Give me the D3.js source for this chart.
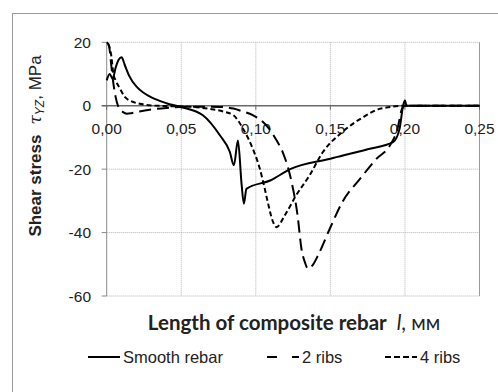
<!DOCTYPE html>
<html>
<head>
<meta charset="utf-8">
<script src="https://cdn.jsdelivr.net/npm/d3@7"></script>
<style>
  body { margin: 0; background: #fff; }
  text { font-family: "Liberation Sans", Arial, sans-serif; fill: #222; }
</style>
</head>
<body>
<div id="chart"></div>
<script>
// data
var xTicks = [0, 0.05, 0.10, 0.15, 0.20, 0.25];
var xTickLabels = ["0,00", "0,05", "0,10", "0,15", "0,20", "0,25"];
var yTicks = [-60, -40, -20, 0, 20];

var smoothX = [0, 0.002, 0.004, 0.006, 0.008, 0.010, 0.012, 0.015, 0.02, 0.025, 0.03, 0.04, 0.05, 0.0645, 0.076, 0.0826, 0.0853, 0.088, 0.0905, 0.092, 0.0937, 0.11, 0.123, 0.15, 0.175, 0.192, 0.1964, 0.1986, 0.2, 0.201, 0.25];
var smoothY = [8, 10, 8.5, 12, 14.5, 15.3, 13, 9.5, 6, 4, 2.6, 0.8, -0.4, -3, -9.4, -14.6, -18.8, -11, -25, -30.9, -26.2, -23.5, -20, -16.7, -13.7, -11.5, -7.3, -0.4, 1.7, 0, 0];

var ribs2X = [0, 0.0015, 0.003, 0.0045, 0.006, 0.008, 0.011, 0.0135, 0.017, 0.022, 0.03, 0.04, 0.06, 0.076, 0.085, 0.0893, 0.098, 0.104, 0.109, 0.114, 0.118, 0.124, 0.128, 0.1306, 0.133, 0.135, 0.1385, 0.1417, 0.1496, 0.158, 0.170, 0.181, 0.19, 0.195, 0.198, 0.2, 0.25];
var ribs2Y = [20, 19, 13, 7, 2.7, -0.5, -2, -2.5, -2.3, -1.8, -1.2, -0.7, -0.3, -0.4, -0.9, -1.5, -3, -4.8, -7.3, -11, -14.6, -24.1, -34.6, -45.1, -49.5, -51.4, -50, -47.2, -38.8, -30.4, -23, -16.7, -12.5, -7.3, -1, 0, 0];

var ribs4X = [0.001, 0.003, 0.0045, 0.006, 0.0089, 0.0123, 0.016, 0.0223, 0.03, 0.04, 0.055, 0.069, 0.078, 0.085, 0.0915, 0.098, 0.1027, 0.106, 0.108, 0.1116, 0.1138, 0.1194, 0.127, 0.136, 0.145, 0.158, 0.172, 0.183, 0.19, 0.2, 0.25];
var ribs4Y = [19.5, 16, 10, 8, 5.4, 2.7, 1.5, 0.6, 0.1, -0.1, -0.3, -1, -1.8, -3, -7.3, -13.6, -19.9, -26.2, -30.4, -36.7, -38.3, -34.6, -28.3, -22, -14.6, -8.3, -3.6, -1, -0.4, 0, 0];

var svgWidth = 498;
var svgHeight = 392;

var svg = d3.select("#chart")
    .append("svg")
    .attr("width", svgWidth)
    .attr("height", svgHeight);

// outer frame (cut off at right/bottom)
svg.append("rect")
    .attr("x", 12.5).attr("y", 13.5)
    .attr("width", 500).attr("height", 400)
    .attr("fill", "none")
    .attr("stroke", "#9a9a9a");

var x = d3.scaleLinear().domain([0, 0.25]).range([106.7, 479.5]);
var y = d3.scaleLinear().domain([-60, 20]).range([296, 42.3]);

// grid
svg.append("g").selectAll("line")
    .data(yTicks.filter(d => d !== 0))
    .enter().append("line")
    .attr("x1", x(0)).attr("x2", x(0.25))
    .attr("y1", d => y(d)).attr("y2", d => y(d))
    .attr("stroke", "#b4b4b4")
    .attr("stroke-dasharray", "1,1");

svg.append("g").selectAll("line")
    .data(xTicks.slice(1, 5))
    .enter().append("line")
    .attr("x1", d => x(d)).attr("x2", d => x(d))
    .attr("y1", y(20)).attr("y2", y(-60))
    .attr("stroke", "#b4b4b4")
    .attr("stroke-dasharray", "1,1");

// right border
svg.append("line")
    .attr("x1", x(0.25)).attr("x2", x(0.25))
    .attr("y1", y(20)).attr("y2", y(-60))
    .attr("stroke", "#9a9a9a");

// y axis
svg.append("line")
    .attr("x1", x(0)).attr("x2", x(0))
    .attr("y1", y(20)).attr("y2", y(-60))
    .attr("stroke", "#8a8a8a");

svg.append("g").selectAll("line")
    .data(yTicks)
    .enter().append("line")
    .attr("x1", x(0) - 5).attr("x2", x(0))
    .attr("y1", d => y(d)).attr("y2", d => y(d))
    .attr("stroke", "#8a8a8a");

// zero line
svg.append("line")
    .attr("x1", x(0) - 5).attr("x2", x(0.25))
    .attr("y1", y(0)).attr("y2", y(0))
    .attr("stroke", "#6a6a6a")
    .attr("stroke-width", 1.5);

svg.append("g").selectAll("line")
    .data(xTicks)
    .enter().append("line")
    .attr("x1", d => x(d)).attr("x2", d => x(d))
    .attr("y1", y(0)).attr("y2", y(0) + 4)
    .attr("stroke", "#6a6a6a");

// tick labels
svg.append("g").selectAll("text")
    .data(yTicks)
    .enter().append("text")
    .attr("x", 91)
    .attr("y", d => y(d) + 5.5)
    .attr("text-anchor", "end")
    .style("font-size", "15.5px")
    .text(d => d);

svg.append("g").selectAll("text")
    .data(xTicks)
    .enter().append("text")
    .attr("x", d => x(d))
    .attr("y", y(0) + 28)
    .attr("text-anchor", "middle")
    .style("font-size", "15.5px")
    .text((d, i) => xTickLabels[i]);

// curves
var line = d3.line()
    .x(d => x(d[0]))
    .y(d => y(d[1]))
    .curve(d3.curveMonotoneX);

var series = [
    { xs: smoothX, ys: smoothY, dash: null },
    { xs: ribs2X, ys: ribs2Y, dash: "12,6" },
    { xs: ribs4X, ys: ribs4Y, dash: "5,3" }
];

series.forEach(function(s) {
    var pts = s.xs.map((v, i) => [v, s.ys[i]]);
    svg.append("path")
        .datum(pts)
        .attr("d", line)
        .attr("fill", "none")
        .attr("stroke", "#000")
        .attr("stroke-width", 2)
        .attr("stroke-dasharray", s.dash);
});

// y label
var yLabel = svg.append("text")
    .attr("transform", "translate(41, 146) rotate(-90)")
    .attr("text-anchor", "middle")
    .style("font-size", "17px");
yLabel.append("tspan").style("font-weight", "bold").text("Shear stress");
yLabel.append("tspan").attr("dx", 10).style("font-style", "italic").style("font-family", "'DejaVu Serif', serif").text("τ");
yLabel.append("tspan").attr("dy", 3).style("font-style", "italic").style("font-size", "12px").text("YZ");
yLabel.append("tspan").attr("dy", -3).text(", MPa");

// x label
var xLabel = svg.append("text")
    .attr("x", 294)
    .attr("y", 330)
    .attr("text-anchor", "middle")
    .style("font-family", "Lato, 'Open Sans', sans-serif")
    .style("font-size", "20.5px");
xLabel.append("tspan").style("font-weight", "bold").text("Length of composite rebar");
xLabel.append("tspan").attr("dx", 10).style("font-style", "italic").text("l");
xLabel.append("tspan").text(", мм");

// legend
var legend = [
    { label: "Smooth rebar", x0: 88, dash: null },
    { label: "2 ribs", x0: 267, dash: "10,15,6,0" },
    { label: "4 ribs", x0: 385, dash: "6,3" }
];

legend.forEach(function(l) {
    svg.append("line")
        .attr("x1", l.x0).attr("x2", l.x0 + 32)
        .attr("y1", 357).attr("y2", 357)
        .attr("stroke", "#000")
        .attr("stroke-width", 2)
        .attr("stroke-dasharray", l.dash);
    svg.append("text")
        .attr("x", l.x0 + 35)
        .attr("y", 363)
        .style("font-size", "16.5px")
        .text(l.label);
});
</script>
</body>
</html>
